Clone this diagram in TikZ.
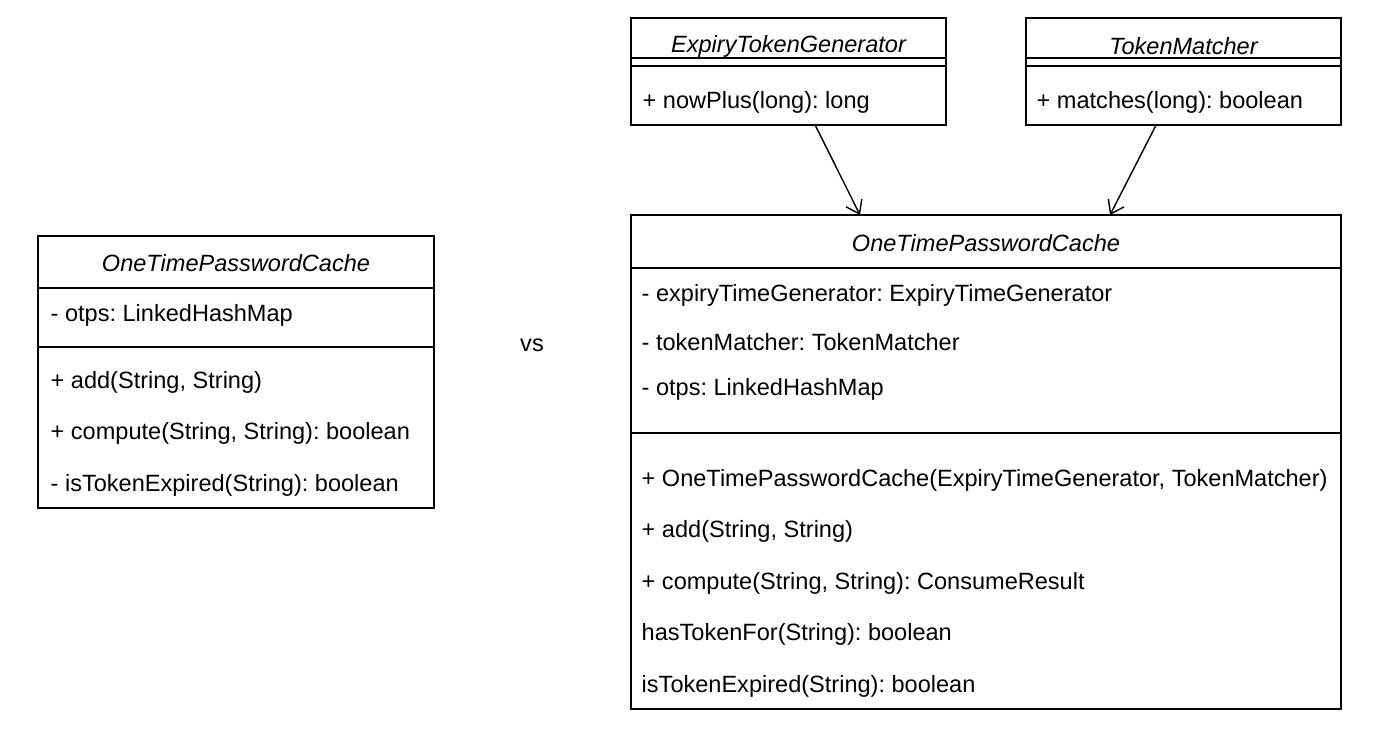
\documentclass[tikz,border=0pt]{standalone}
\usepackage{fontspec}
\setmainfont{Liberation Sans}
\usetikzlibrary{arrows.meta}
\frenchspacing

\begin{document}
\begin{tikzpicture}[x=0.02cm, y=-0.02cm, font=\fontsize{13.4}{16}\selectfont, line width=0.8pt,
        classbox/.style={draw, inner sep=0pt, outer sep=0pt},
        classname/.style={font=\fontsize{13.4}{16}\selectfont\itshape},
        member/.style={anchor=west, inner sep=0pt},
        assoc/.style={-{Straight Barb[length=7pt, width=10pt]}}]
    \useasboundingbox (0,0) rectangle (1400,746);

    % plain cache
    \node[classbox, minimum width=7.92cm, minimum height=5.44cm] (left) at (236, 372) {};
    \node[classname] (lefttitle) at (236, 263) {OneTimePasswordCache};
    \draw (left.west |- 0,288) -- (left.east |- 0,288);
    \draw (left.west |- 0,347) -- (left.east |- 0,347);
    \node[member] (lotps) at (50, 315) {- otps: LinkedHashMap};
    \node[member] (ladd) at (50, 382) {+ add(String, String)};
    \node[member] (lcompute) at (50, 433) {+ compute(String, String): boolean};
    \node[member] (lexpired) at (50, 485) {- isTokenExpired(String): boolean};

    \node (vs) at (532, 345) {vs};

    % collaborators
    \node[classbox, minimum width=6.3cm, minimum height=2.14cm] (etg) at (788.5, 71.5) {};
    \node[classname] (etgtitle) at (788.5, 46) {ExpiryTokenGenerator};
    \draw (etg.west |- 0,58) -- (etg.east |- 0,58);
    \draw (etg.west |- 0,66) -- (etg.east |- 0,66);
    \node[member] (etgplus) at (642, 102) {+ nowPlus(long): long};

    \node[classbox, minimum width=6.3cm, minimum height=2.14cm] (tm) at (1183.5, 71.5) {};
    \node[classname] (tmtitle) at (1183.5, 46) {TokenMatcher};
    \draw (tm.west |- 0,58) -- (tm.east |- 0,58);
    \draw (tm.west |- 0,66) -- (tm.east |- 0,66);
    \node[member] (tmmatches) at (1036, 102) {+ matches(long): boolean};

    % refactored cache
    \node[classbox, minimum width=14.2cm, minimum height=9.88cm] (main) at (986, 462) {};
    \node[classname] (maintitle) at (986, 243) {OneTimePasswordCache};
    \draw (main.west |- 0,268) -- (main.east |- 0,268);
    \draw (main.west |- 0,433) -- (main.east |- 0,433);
    \node[member] (mgen) at (641, 295) {- expiryTimeGenerator: ExpiryTimeGenerator};
    \node[member] (mmatcher) at (641, 342) {- tokenMatcher: TokenMatcher};
    \node[member] (motps) at (641, 389) {- otps: LinkedHashMap};
    \node[member] (mctor) at (641, 480) {+ OneTimePasswordCache(ExpiryTimeGenerator, TokenMatcher)};
    \node[member] (madd) at (641, 531) {+ add(String, String)};
    \node[member] (mcompute) at (641, 583) {+ compute(String, String): ConsumeResult};
    \node[member] (mhas) at (641, 634) {hasTokenFor(String): boolean};
    \node[member] (mexpired) at (641, 686) {isTokenExpired(String): boolean};

    \coordinate (etgin) at (860, 215);
    \coordinate (tmin) at (1110, 215);
    \draw[assoc] (etg) -- (etgin);
    \draw[assoc] (tm) -- (tmin);
\end{tikzpicture}
\end{document}
